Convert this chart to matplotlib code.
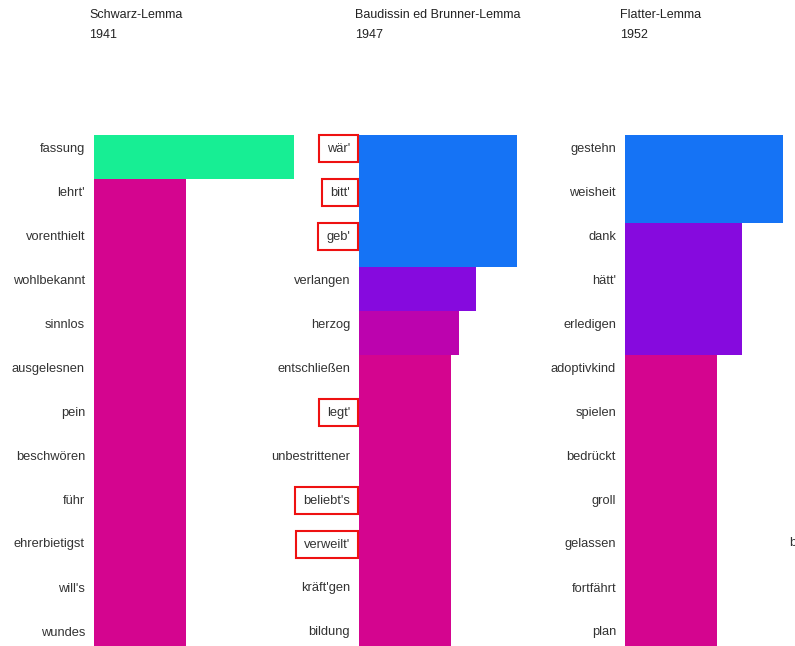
import matplotlib.pyplot as plt

plt.rcParams['font.family'] = ['Liberation Sans', 'DejaVu Sans']

# Daten: drei Übersetzungen, je 12 Lemmata
titles = ["Schwarz-Lemma", "Baudissin ed Brunner-Lemma", "Flatter-Lemma"]
years = ["1941", "1947", "1952"]

words_1 = ["fassung", "lehrt'", "vorenthielt", "wohlbekannt", "sinnlos", "ausgelesnen",
           "pein", "beschwören", "führ", "ehrerbietigst", "will's", "wundes"]
values_1 = [2.17, 1.0, 1.0, 1.0, 1.0, 1.0, 1.0, 1.0, 1.0, 1.0, 1.0, 1.0]
colors_1 = ["#17EE94"] + ["#D4058F"] * 11

words_2 = ["wär'", "bitt'", "geb'", "verlangen", "herzog", "entschließen",
           "legt'", "unbestrittener", "beliebt's", "verweilt'", "kräft'gen", "bildung"]
values_2 = [1.72, 1.72, 1.72, 1.27, 1.09, 1.0, 1.0, 1.0, 1.0, 1.0, 1.0, 1.0]
colors_2 = ["#1573F5"] * 3 + ["#860ADE", "#BC03AE"] + ["#D4058F"] * 7
marked_2 = ["wär'", "bitt'", "geb'", "legt'", "beliebt's", "verweilt'"]

words_3 = ["gestehn", "weisheit", "dank", "hätt'", "erledigen", "adoptivkind",
           "spielen", "bedrückt", "groll", "gelassen", "fortfährt", "plan"]
values_3 = [1.72, 1.72, 1.27, 1.27, 1.27, 1.0, 1.0, 1.0, 1.0, 1.0, 1.0, 1.0]
colors_3 = ["#1573F5"] * 2 + ["#860ADE"] * 3 + ["#D4058F"] * 7

W, H = 795, 646
fig = plt.figure(figsize=(W / 100, H / 100), dpi=100)

bar_left = [94, 359, 625]
title_x = [89, 355, 620]
row_h = 44
top = 135
n = 12
xmax = 2.2
ax_w = xmax * 92
label_shift = 10 / row_h  # Beschriftung sitzt etwas oberhalb der Balkenmitte

panels = [(words_1, values_1, colors_1, []),
          (words_2, values_2, colors_2, marked_2),
          (words_3, values_3, colors_3, [])]

for i, (words, vals, cols, marked) in enumerate(panels):
    bottom = top + n * row_h
    ax = fig.add_axes([bar_left[i] / W, (H - bottom) / H, ax_w / W, n * row_h / H])
    ax.barh(range(n), vals, height=1.0, color=cols, edgecolor='none')
    ax.set_ylim(n - 0.5, -0.5)
    ax.set_xlim(0, xmax)
    ax.set_yticks([k - label_shift for k in range(n)])
    ax.set_yticklabels(words, fontsize=9.3, color='#333333')
    ax.set_xticks([])
    ax.tick_params(axis='y', length=0, pad=6.5)
    for s in ax.spines.values():
        s.set_visible(False)
    for lab in ax.get_yticklabels():
        if lab.get_text() in marked:
            lab.set_bbox(dict(facecolor='none', edgecolor='#EE1111', linewidth=1.5,
                              boxstyle='square,pad=0.6'))
    fig.text(title_x[i] / W, 1 - 15 / H, titles[i], fontsize=9, color='#222222',
             ha='left', va='center')
    fig.text(title_x[i] / W, 1 - 35 / H, years[i], fontsize=9, color='#222222',
             ha='left', va='center')

# Anfang des abgeschnittenen vierten Panels
fig.text(789 / W, 1 - 543 / H, "b", fontsize=9.3, color='#333333', ha='left', va='center')

fig.savefig("out.png", dpi=100)
